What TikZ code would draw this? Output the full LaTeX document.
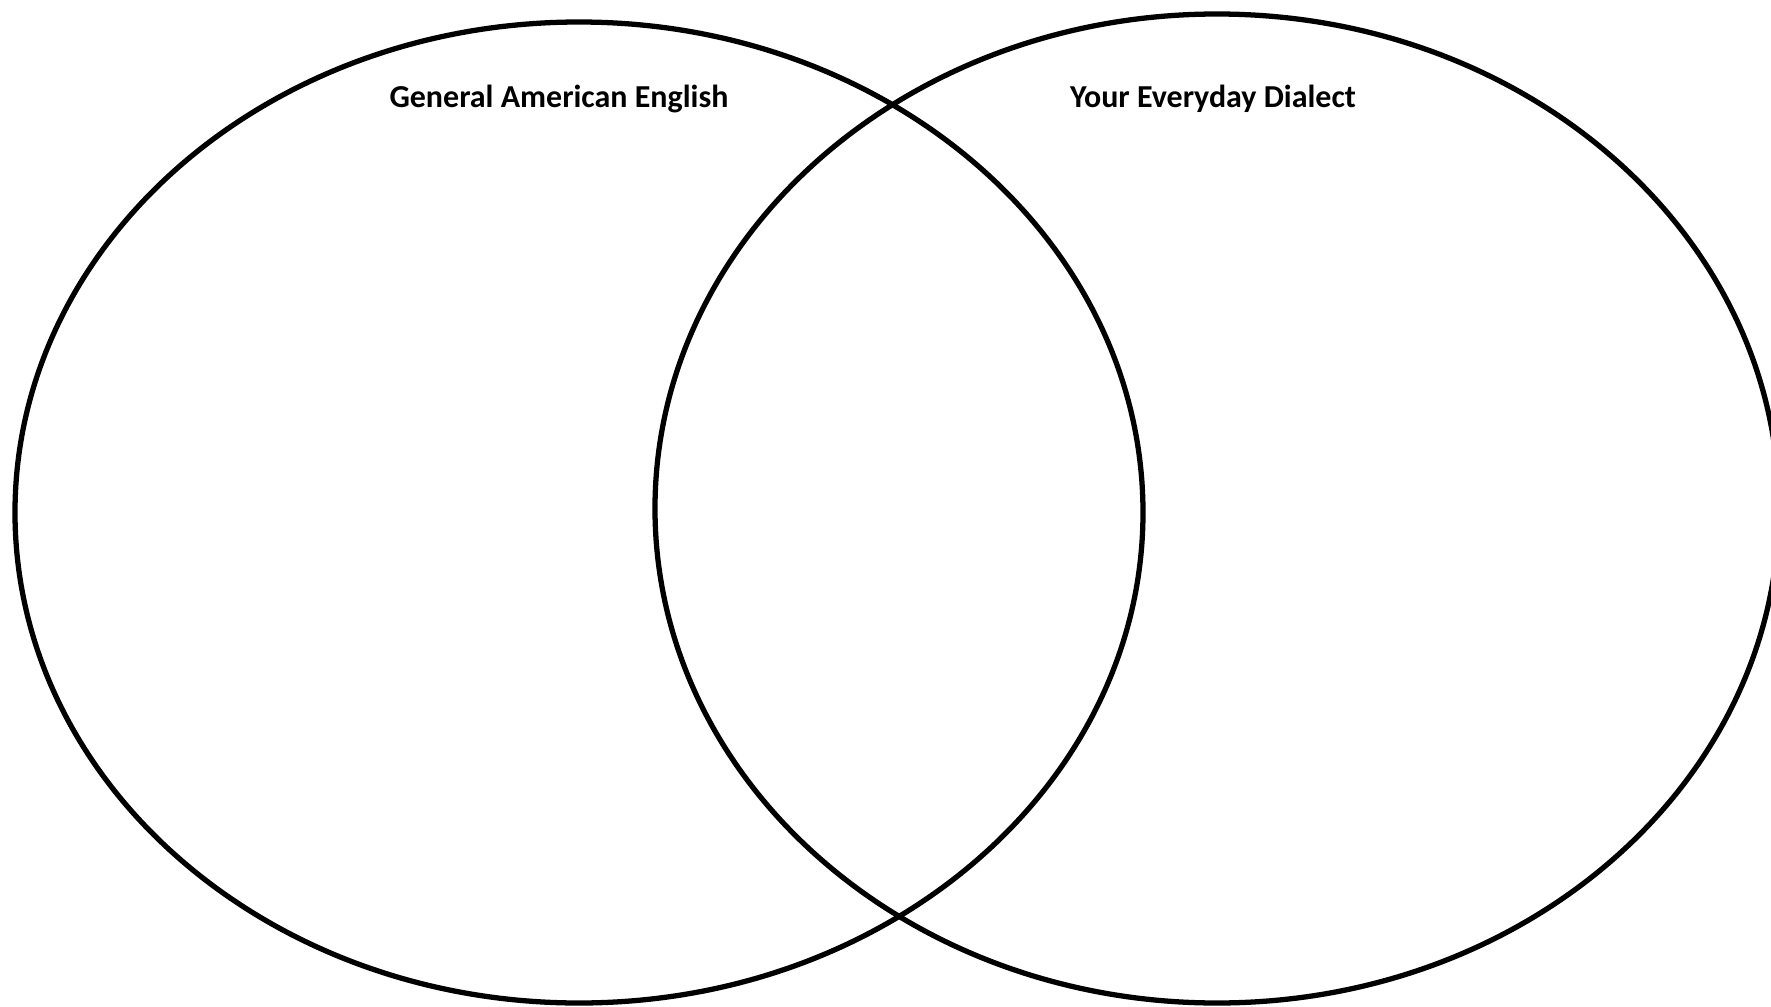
\documentclass[tikz,border=0pt]{standalone}
\usepackage{fontspec}
\setmainfont{Carlito}
\usepackage{tikz}
\usetikzlibrary{positioning}

\begin{document}
\begin{tikzpicture}[ring/.style={draw,line width=1.5pt}, every node/.style={font=\fontsize{9.1}{11}\selectfont\bfseries}]
\clip (0,0) rectangle (17.71,10.06);
\fill[white] (0,0) rectangle (17.71,10.06);
\draw[ring] (5.79,4.935) ellipse [x radius=5.64cm, y radius=4.905cm];
\draw[ring] (12.17,4.975) ellipse [x radius=5.62cm, y radius=4.945cm];
\node[anchor=base] (gae) at (5.59,8.99) {General American English};
\node[anchor=base] (ydia) at (12.13,8.99) {Your Everyday Dialect};
\end{tikzpicture}
\end{document}
